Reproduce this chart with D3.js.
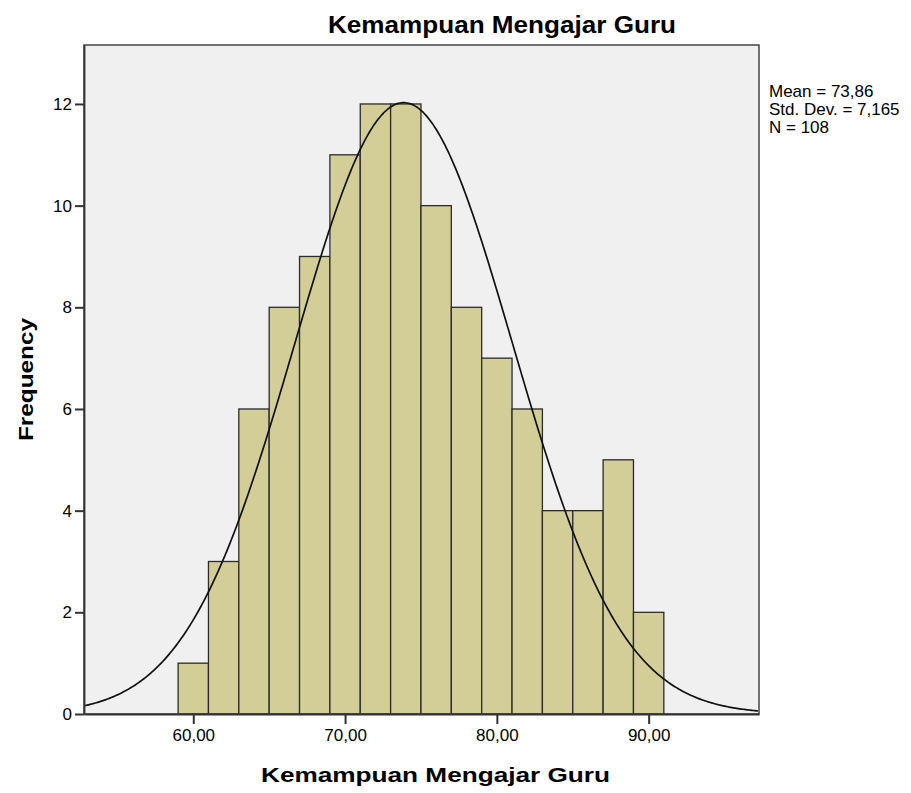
<!DOCTYPE html>
<html>
<head>
<meta charset="utf-8">
<script src="https://cdn.jsdelivr.net/npm/d3@7"></script>
<style>
  body { margin: 0; background: #fff; }
  svg text { font-family: Arial, "Liberation Sans", sans-serif; fill: #000; }
</style>
</head>
<body>
<div id="chart"></div>
<script>
// histogram bins (lower edge) and counts
const binStarts = [59, 61, 63, 65, 67, 69, 71, 73, 75, 77, 79, 81, 83, 85, 87, 89];
const binWidth = 2;
const counts = [1, 3, 6, 8, 9, 11, 12, 12, 10, 8, 7, 6, 4, 4, 5, 2];
const xTicks = [60, 70, 80, 90];
const yTicks = [0, 2, 4, 6, 8, 10, 12];
const mean = 73.86;
const sd = 7.165;
const n = 108;
const statLines = ['Mean = 73,86', 'Std. Dev. = 7,165', 'N = 108'];

const width = 911;
const height = 793;
const plot = {left: 84, right: 759, top: 45, bottom: 714};

const svg = d3.select('#chart').append('svg')
  .attr('width', width)
  .attr('height', height);

const x = d3.scaleLinear()
  .domain([52.8, 97.27])
  .range([plot.left, plot.right]);

const y = d3.scaleLinear()
  .domain([0, 13.16])
  .range([plot.bottom, plot.top]);

// plot background
svg.append('rect')
  .attr('x', plot.left)
  .attr('y', plot.top)
  .attr('width', plot.right - plot.left)
  .attr('height', plot.bottom - plot.top)
  .attr('fill', '#f0f0f0');

svg.append('clipPath').attr('id', 'clip')
  .append('rect')
  .attr('x', plot.left)
  .attr('y', plot.top)
  .attr('width', plot.right - plot.left)
  .attr('height', plot.bottom - plot.top);

const bars = svg.append('g').attr('class', 'bars')
  .selectAll('rect')
  .data(binStarts)
  .enter()
  .append('rect');

bars.attr('x', d => x(d))
  .attr('y', (d, i) => y(counts[i]))
  .attr('width', d => x(d + binWidth) - x(d))
  .attr('height', (d, i) => y(0) - y(counts[i]))
  .attr('fill', '#d3ce97')
  .attr('stroke', '#2b2b2b')
  .attr('stroke-width', 1.3);

// normal curve scaled to counts
const curveX = d3.range(x.domain()[0], x.domain()[1] + 0.01, 0.1);
const normal = (v) => n * binWidth / (sd * Math.sqrt(2 * Math.PI)) * Math.exp(-0.5 * Math.pow((v - mean) / sd, 2));

const line = d3.line()
  .x(d => x(d))
  .y(d => y(normal(d)))
  .curve(d3.curveBasis);

svg.append('path')
  .datum(curveX)
  .attr('clip-path', 'url(#clip)')
  .attr('d', line)
  .attr('fill', 'none')
  .attr('stroke', '#111')
  .attr('stroke-width', 1.7);

// frame
svg.append('rect')
  .attr('x', plot.left)
  .attr('y', plot.top)
  .attr('width', plot.right - plot.left)
  .attr('height', plot.bottom - plot.top)
  .attr('fill', 'none')
  .attr('stroke', '#444')
  .attr('stroke-width', 1.5);

// axes
const xAxis = d3.axisBottom(x)
  .tickValues(xTicks)
  .tickSizeInner(10)
  .tickSizeOuter(0)
  .tickPadding(5)
  .tickFormat(d => d3.format('.2f')(d).replace('.', ','));

const groupAxisX = svg.append('g')
  .attr('transform', `translate(0, ${plot.bottom})`)
  .call(xAxis);

const yAxis = d3.axisLeft(y)
  .tickValues(yTicks)
  .tickSizeInner(9)
  .tickSizeOuter(0)
  .tickPadding(3);

const groupAxisY = svg.append('g')
  .attr('transform', `translate(${plot.left}, 0)`)
  .call(yAxis);

[groupAxisX, groupAxisY].forEach(g => {
  g.attr('font-size', 17);
  g.select('.domain').attr('stroke', '#333').attr('stroke-width', 1.8);
  g.selectAll('.tick line').attr('stroke', '#333').attr('stroke-width', 2);
  g.selectAll('.tick text')
    .style('font-family', 'Arial, "Liberation Sans", sans-serif')
    .style('font-size', '17px')
    .attr('fill', '#222');
});

// titles
svg.append('text')
  .attr('x', 328)
  .attr('y', 33)
  .attr('textLength', 348)
  .attr('lengthAdjust', 'spacingAndGlyphs')
  .style('font-size', '23px')
  .style('font-weight', 'bold')
  .text('Kemampuan Mengajar Guru');

svg.append('text')
  .attr('x', 261)
  .attr('y', 782)
  .attr('textLength', 349)
  .attr('lengthAdjust', 'spacingAndGlyphs')
  .style('font-size', '20px')
  .style('font-weight', 'bold')
  .text('Kemampuan Mengajar Guru');

svg.append('text')
  .attr('transform', 'translate(33, 441) rotate(-90)')
  .attr('textLength', 123)
  .attr('lengthAdjust', 'spacingAndGlyphs')
  .style('font-size', '20px')
  .style('font-weight', 'bold')
  .text('Frequency');

// stats
svg.append('g')
  .selectAll('text')
  .data(statLines)
  .enter()
  .append('text')
  .attr('x', 769)
  .attr('y', (d, i) => 97 + i * 18)
  .style('font-size', '17px')
  .attr('fill', '#111')
  .text(d => d);
</script>
</body>
</html>
